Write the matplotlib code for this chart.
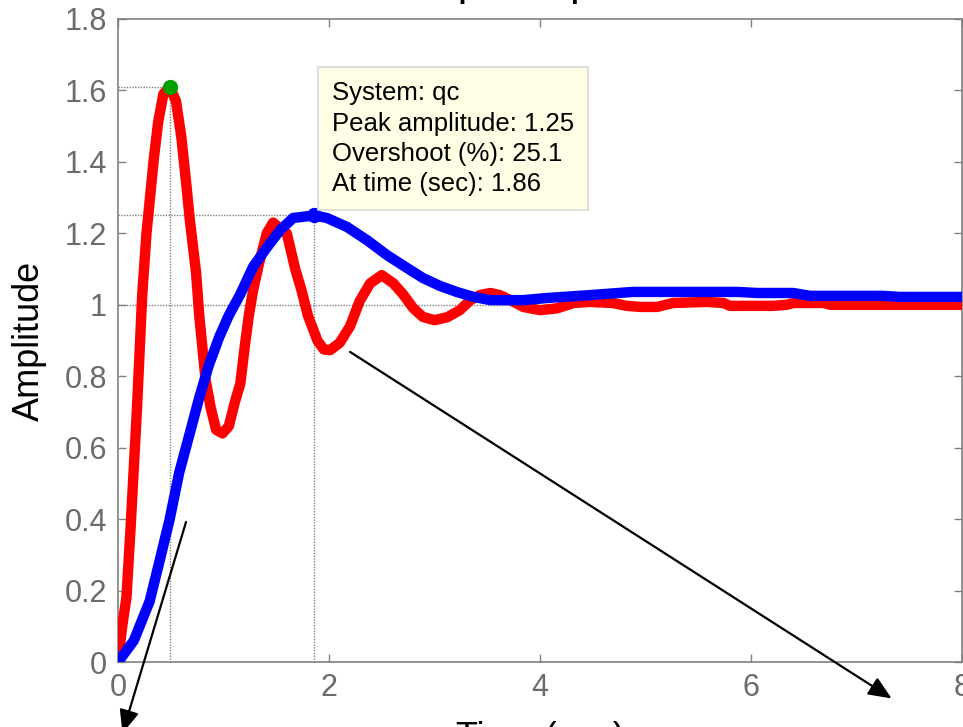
import numpy as np
import matplotlib
matplotlib.use("Agg")
import matplotlib.pyplot as plt

plt.rcParams['font.family'] = ['Liberation Sans', 'DejaVu Sans']

# respuesta al escalón del sistema rojo (oscilatorio)
t_rojo = [0, 0.04, 0.08, 0.12, 0.18, 0.23, 0.27, 0.34, 0.38, 0.43, 0.49,
          0.55, 0.60, 0.65, 0.68, 0.74, 0.77, 0.83, 0.88, 0.93, 0.99,
          1.05, 1.11, 1.16, 1.20, 1.24, 1.28, 1.34, 1.41, 1.47, 1.55,
          1.60, 1.68, 1.74, 1.80, 1.89, 1.95, 2.01, 2.10, 2.20, 2.29,
          2.39, 2.50, 2.61, 2.70, 2.80, 2.89, 3.00, 3.12, 3.24, 3.34,
          3.43, 3.53, 3.62, 3.72, 3.84, 4.00, 4.16, 4.32, 4.47, 4.69,
          4.82, 4.95, 5.11, 5.26, 5.58, 5.74, 5.80, 6.21, 6.34, 6.40,
          6.69, 6.75, 8.0]
y_rojo = [0, 0.10, 0.18, 0.38, 0.71, 1.03, 1.20, 1.41, 1.51, 1.59, 1.61,
          1.57, 1.47, 1.33, 1.24, 1.09, 0.97, 0.79, 0.71, 0.65, 0.64,
          0.66, 0.73, 0.78, 0.88, 0.97, 1.04, 1.12, 1.20, 1.23, 1.21,
          1.20, 1.10, 1.04, 0.97, 0.90, 0.875, 0.873, 0.893, 0.94, 1.01,
          1.06, 1.083, 1.06, 1.03, 0.99, 0.966, 0.957, 0.965, 0.985, 1.013,
          1.027, 1.033, 1.027, 1.013, 0.994, 0.985, 0.99, 1.005, 1.008, 1.005,
          0.997, 0.994, 0.994, 1.005, 1.008, 1.005, 0.997, 0.997, 1.0, 1.005,
          1.005, 1.0, 1.0]

# respuesta al escalón del sistema qc (azul)
t_azul = [0, 0.15, 0.30, 0.40, 0.49, 0.58, 0.68, 0.77, 0.86, 0.96, 1.05,
          1.16, 1.28, 1.41, 1.54, 1.66, 1.86, 1.98, 2.17, 2.36, 2.55,
          2.74, 2.89, 3.05, 3.21, 3.37, 3.53, 3.84, 4.07, 4.47, 4.88,
          5.87, 6.06, 6.40, 6.56, 7.25, 7.41, 8.0]
y_azul = [0, 0.06, 0.17, 0.29, 0.40, 0.53, 0.64, 0.74, 0.83, 0.91, 0.97,
          1.03, 1.106, 1.16, 1.21, 1.243, 1.25, 1.243, 1.218, 1.181, 1.139,
          1.103, 1.075, 1.053, 1.036, 1.022, 1.013, 1.013, 1.019, 1.027, 1.036,
          1.036, 1.033, 1.033, 1.025, 1.025, 1.022, 1.022]

# picos marcados
pico_rojo = (0.49, 1.61)
pico_azul = (1.86, 1.25)
sobrepaso = 25.1
sistema = 'qc'

x_ticks = [0, 2, 4, 6, 8]
y_ticks = [0, 0.2, 0.4, 0.6, 0.8, 1, 1.2, 1.4, 1.6, 1.8]

gris = '#808080'
gris_txt = '#6b6b6b'

fig = plt.figure(figsize=(9.63, 7.27), dpi=100)
ax = fig.add_axes([118/963, 1 - 662/727, 844/963, 643/727])

# líneas de referencia punteadas
lp = dict(color=gris, lw=1, ls=(0, (1, 1)), zorder=1)
ax.axhline(1, **lp)
for tp, yp in (pico_rojo, pico_azul):
    ax.plot([tp, tp], [0, yp], **lp)
    ax.plot([0, tp], [yp, yp], **lp)

ax.plot(t_rojo, y_rojo, color='#ff0000', lw=7.5, solid_joinstyle='round', zorder=3)
ax.plot(t_azul, y_azul, color='#0000ff', lw=7.5, solid_joinstyle='round', zorder=4)
ax.plot(*pico_rojo, 'o', color='#00a000', ms=10, zorder=5)
ax.plot(*pico_azul, 'o', color='#0000ff', ms=10, zorder=5)

# cuadro de datos del pico
texto = (f'System: {sistema}\nPeak amplitude: {pico_azul[1]:.2f}\n'
         f'Overshoot (%): {sobrepaso}\nAt time (sec): {pico_azul[0]:.2f}')
ax.annotate(texto, xy=pico_azul, xytext=(18, 19), textcoords='offset pixels',
            ha='left', va='bottom', fontsize=18.5, linespacing=1.34, zorder=6,
            bbox=dict(boxstyle='square,pad=0.54', fc='#ffffe6', ec='#d8d8d8', lw=1.2))

# flechas
flecha = dict(arrowstyle='-|>,head_length=0.7,head_width=0.3', mutation_scale=20,
              lw=1.6, color='black', shrinkA=0, shrinkB=0)
ax.annotate('', xy=(0.043, -0.199), xytext=(0.645, 0.392), arrowprops=flecha,
            annotation_clip=False)
ax.annotate('', xy=(7.333, -0.102), xytext=(2.2, 0.868), arrowprops=flecha,
            annotation_clip=False)

ax.set_xlim(0, 8)
ax.set_ylim(0, 1.8)
ax.set_xticks(x_ticks)
ax.set_yticks(y_ticks)
ax.set_yticklabels([f'{v:g}' for v in y_ticks])
ax.tick_params(direction='in', length=6, width=1, color=gris, labelcolor=gris_txt,
               labelsize=22, top=True, right=True)
ax.tick_params(axis='y', pad=8)
ax.tick_params(axis='x', pad=8)
for s in ax.spines.values():
    s.set_color(gris)
    s.set_linewidth(1.2)

ax.text(0.5, 1 + 24/643, 'Step Response', transform=ax.transAxes, ha='center',
        va='baseline', fontsize=31)
ax.text(0.5, -86/643, 'Time (sec)', transform=ax.transAxes, ha='center',
        va='baseline', fontsize=26)
ax.text(-89/844, 0.5, 'Amplitude', transform=ax.transAxes, ha='center',
        va='center', rotation=90, fontsize=26)

fig.savefig('out.png', dpi=100)
